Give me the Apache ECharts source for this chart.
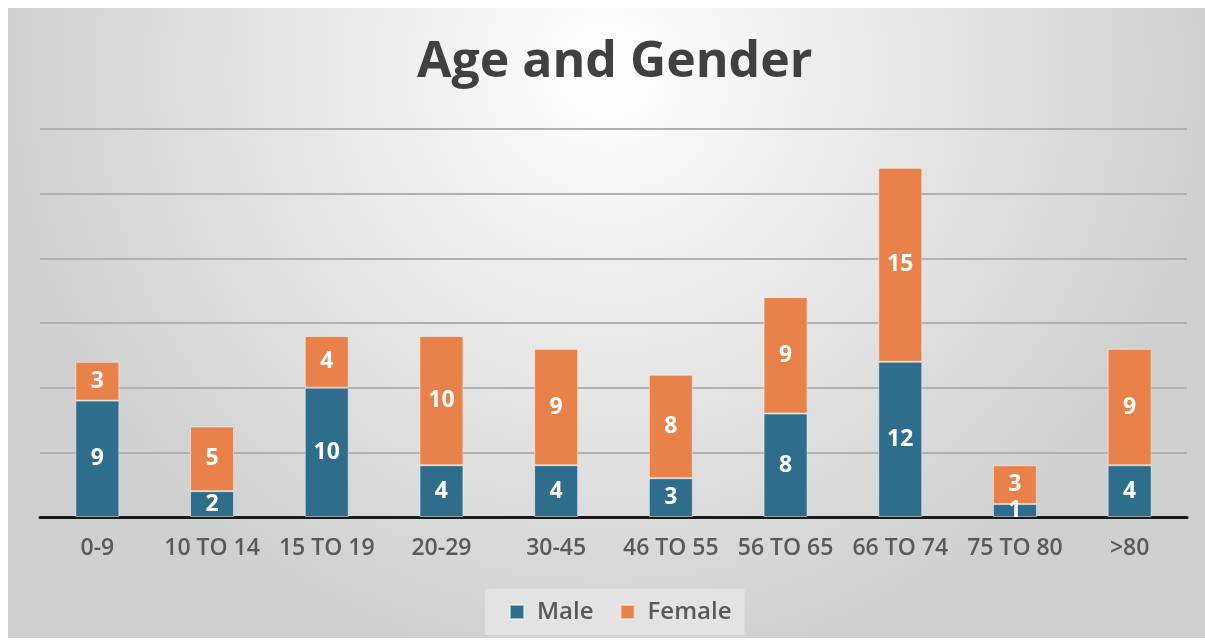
<!DOCTYPE html>
<html>
<head>
<meta charset="utf-8">
<script src="https://cdn.jsdelivr.net/npm/echarts@6/dist/echarts.min.js"></script>
<style>
html,body{margin:0;padding:0;background:#fff;}
#c{position:absolute;left:8px;top:8px;width:1197px;height:630px;}
</style>
</head>
<body>
<div id="c"></div>
<script>
const categories = ['0-9','10 TO 14','15 TO 19','20-29','30-45','46 TO 55','56 TO 65','66 TO 74','75 TO 80','>80'];
const male = [9,2,10,4,4,3,8,12,1,4];
const female = [3,5,4,10,9,8,9,15,3,9];

const chart = echarts.init(document.getElementById('c'));
const labelStyle = {show:true, position:'inside', color:'#fff', fontWeight:'bold', fontSize:23, fontFamily:'Open Sans'};
chart.setOption({
  backgroundColor: {
    type:'radial', x:0.5, y:0.1, r:0.95,
    colorStops:[{offset:0,color:'#ffffff'},{offset:0.3,color:'#f0f0f0'},{offset:1,color:'#d0d0d0'}]
  },
  title:{
    text:'Age and Gender', left:404, top:25,
    textStyle:{fontFamily:'Open Sans', fontWeight:'bold', fontSize:50, color:'#404040'}
  },
  legend:{
    bottom:3, left:477, itemWidth:14, itemHeight:14, icon:'rect', itemGap:26,
    backgroundColor:'#e3e3e3', padding:[11,13,11,24],
    textStyle:{fontFamily:'Open Sans', fontSize:24, fontWeight:600, color:'#595959', padding:[0,0,0,8]},
    data:['Male','Female']
  },
  grid:{left:32, right:18, top:121, bottom:121},
  xAxis:{
    type:'category', data:categories,
    axisLine:{lineStyle:{color:'#1a1a1a', width:3}},
    axisTick:{show:false},
    axisLabel:{fontFamily:'Open Sans', fontSize:23, fontWeight:600, color:'#595959', margin:20, interval:0}
  },
  yAxis:{
    type:'value', min:0, max:30, interval:5,
    axisLabel:{show:false}, axisLine:{show:false}, axisTick:{show:false},
    splitLine:{lineStyle:{color:'#b0b0b0', width:2}}
  },
  series:[
    {name:'Male', type:'bar', stack:'a', data:male, barWidth:44,
     itemStyle:{color:'#2e6d8c', borderColor:'rgba(255,255,255,0.5)', borderWidth:1}, label:labelStyle},
    {name:'Female', type:'bar', stack:'a', data:female, barWidth:44,
     itemStyle:{color:'#e8814a', borderColor:'rgba(255,255,255,0.5)', borderWidth:1}, label:labelStyle}
  ]
});
</script>
</body>
</html>
